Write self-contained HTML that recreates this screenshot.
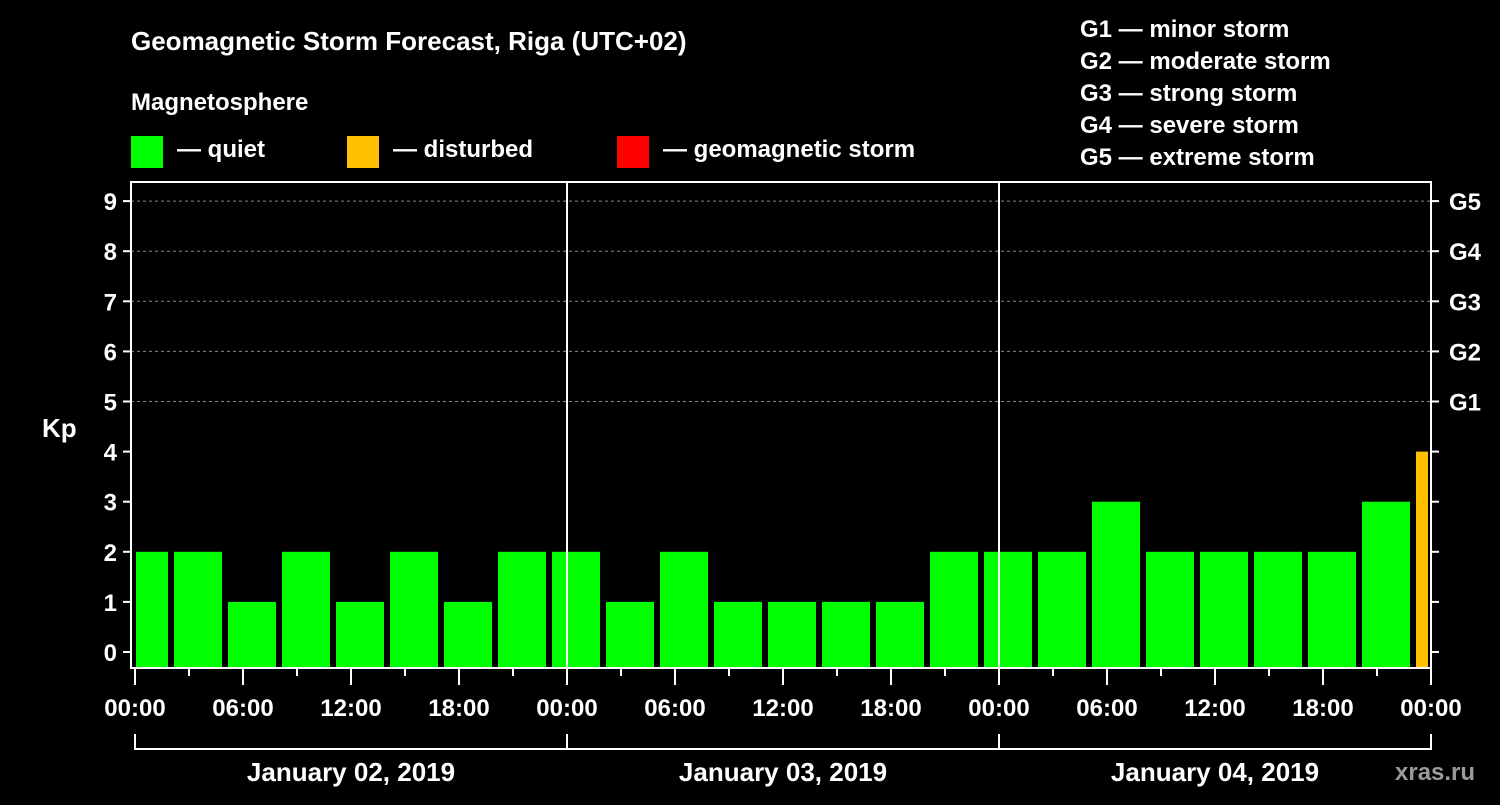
<!DOCTYPE html>
<html><head><meta charset="utf-8"><style>
body{margin:0;background:#000;width:1500px;height:800px;overflow:hidden}
svg text{font-family:"Liberation Sans",sans-serif;font-weight:bold;fill:#fff}
</style></head><body>
<svg id="c" width="1500" height="800">
<text x="131" y="50" font-size="26">Geomagnetic Storm Forecast, Riga (UTC+02)</text>
<text x="131" y="110" font-size="24">Magnetosphere</text>
<g><rect x="131" y="136" width="32" height="32" fill="#00ff00"/><text x="177" y="157" font-size="24">— quiet</text></g>
<g><rect x="347" y="136" width="32" height="32" fill="#ffc000"/><text x="393" y="157" font-size="24">— disturbed</text></g>
<g><rect x="617" y="136" width="32" height="32" fill="#ff0000"/><text x="663" y="157" font-size="24">— geomagnetic storm</text></g>
<g font-size="24">
<text x="1080" y="37">G1 — minor storm</text><text x="1080" y="69">G2 — moderate storm</text><text x="1080" y="101">G3 — strong storm</text><text x="1080" y="133">G4 — severe storm</text><text x="1080" y="165">G5 — extreme storm</text></g>
<text x="42" y="437" font-size="26">Kp</text>
<text x="1395" y="780" font-size="24" fill="#999" style="fill:#9a9a9a">xras.ru</text>
<g id="g"></g>
</svg>
<script>
const values=[2,2,1,2,1,2,1,2,2,1,2,1,1,1,1,2,2,2,3,2,2,2,2,3,4];
const yTicks=[0,1,2,3,4,5,6,7,8,9];
const gLabels=["G1","G2","G3","G4","G5"];
const xLabels=["00:00","06:00","12:00","18:00","00:00","06:00","12:00","18:00","00:00","06:00","12:00","18:00","00:00"];
const days=["January 02, 2019","January 03, 2019","January 04, 2019"];
const X0=135,HPX=18,L=131,R=1431,T=182,B=668;
const x=h=>X0+h*HPX, y=v=>652-v*50.1;
const g=document.getElementById('g'),NS='http://www.w3.org/2000/svg';
function mk(t,a,txt){const e=document.createElementNS(NS,t);for(const k in a)e.setAttribute(k,a[k]);if(txt!=null)e.textContent=txt;g.appendChild(e);return e;}
yTicks.forEach(v=>{if(v>=5){const e=mk('line',{x1:L,x2:R,y1:y(v),y2:y(v),stroke:'#888','stroke-dasharray':'3,3'});

}
let e=mk('line',{x1:L-8,x2:L,y1:y(v),y2:y(v),stroke:'#fff','stroke-width':2});


e=mk('line',{x1:R,x2:R+8,y1:y(v),y2:y(v),stroke:'#fff','stroke-width':2});


e=mk('text',{x:L-14,y:y(v)+9,'font-size':24,'text-anchor':'end'},String(v));

});
gLabels.forEach((s,i)=>{const e=mk('text',{x:1449,y:y(i+5)+9,'font-size':24},s);

});
values.forEach((v,i)=>{let s=x(-1+3*i)+3,en=x(2+3*i)-3;s=Math.max(s,L+5);en=Math.min(en,R-3);
const e=mk('rect',{x:s,y:y(v),width:en-s,height:B-y(v),fill:v>=5?'#ff0000':v>=4?'#ffc000':'#00ff00'});

});
[24,48].forEach(h=>{const e=mk('line',{x1:x(h),x2:x(h),y1:T,y2:B,stroke:'#fff','stroke-width':2});

});
let f=mk('rect',{x:L,y:T,width:R-L,height:B-T,fill:'none',stroke:'#fff','stroke-width':2});


for(let h=0;h<=72;h+=3){const maj=h%6==0;const e=mk('line',{x1:x(h),x2:x(h),y1:B,y2:B+(maj?17:8),stroke:'#fff','stroke-width':2});

}
xLabels.forEach((s,i)=>{const e=mk('text',{x:x(i*6),y:716,'font-size':24,'text-anchor':'middle'},s);

});
let b=mk('line',{x1:x(0),x2:x(72),y1:749,y2:749,stroke:'#fff','stroke-width':2});


[0,24,48,72].forEach(h=>{const e=mk('line',{x1:x(h),x2:x(h),y1:734,y2:750,stroke:'#fff','stroke-width':2});

});
days.forEach((s,i)=>{const e=mk('text',{x:x(i*24+12),y:781,'font-size':26,'text-anchor':'middle'},s);

});
</script>
</body></html>
